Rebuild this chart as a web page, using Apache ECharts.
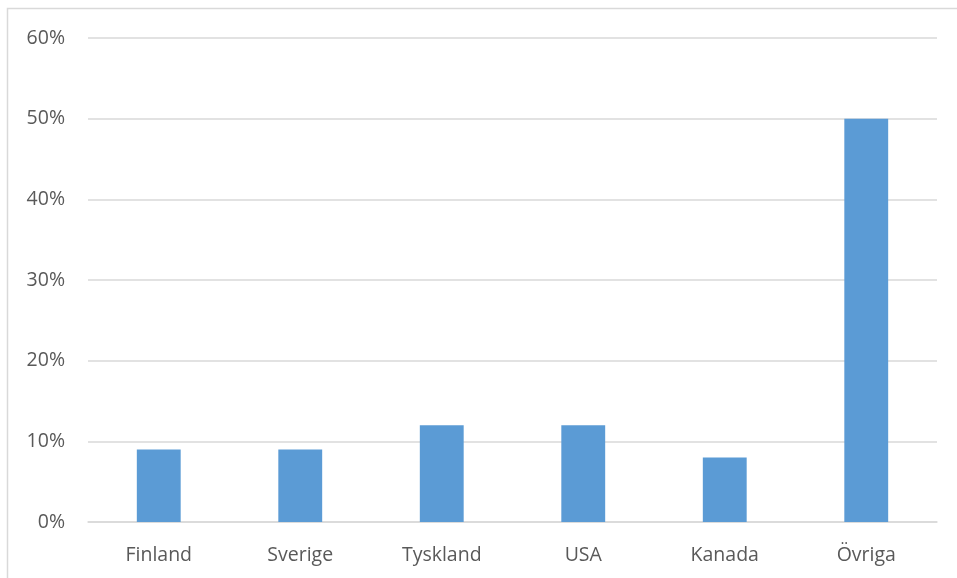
<!DOCTYPE html>
<html>
<head>
<meta charset="utf-8">
<script src="https://cdn.jsdelivr.net/npm/echarts@6/dist/echarts.min.js"></script>
<style>
  html, body { margin: 0; padding: 0; background: #fff; }
  #chart { width: 957px; height: 578px; }
</style>
</head>
<body>
<div id="chart"></div>
<script>
// Share per country (percent)
const countries = ['Finland', 'Sverige', 'Tyskland', 'USA', 'Kanada', 'Övriga'];
const shares = [9, 9, 12, 12, 8, 50];
const yTicks = { min: 0, max: 60, interval: 10 };

const chart = echarts.init(document.getElementById('chart'));
const fontFamily = '"Open Sans", "Noto Sans", sans-serif';

chart.setOption({
  animation: false,
  backgroundColor: '#ffffff',
  graphic: [{
    type: 'rect',
    shape: { x: 7.5, y: 8.5, width: 1000, height: 700 },
    style: { fill: 'none', stroke: '#d9d9d9', lineWidth: 1.5 },
    silent: true
  }],
  grid: { left: 88, right: 20, top: 38, bottom: 56, containLabel: false },
  xAxis: {
    type: 'category',
    data: countries,
    axisLine: { show: true, lineStyle: { color: '#d9d9d9', width: 1.5 } },
    axisTick: { show: false },
    axisLabel: { color: '#595959', fontSize: 19.5, fontFamily, margin: 23 }
  },
  yAxis: {
    type: 'value',
    min: yTicks.min, max: yTicks.max, interval: yTicks.interval,
    axisLine: { show: false },
    axisTick: { show: false },
    splitLine: { lineStyle: { color: '#d9d9d9', width: 1.5 } },
    axisLabel: { color: '#595959', fontSize: 19.5, fontFamily, margin: 23, padding: [3, 0, 0, 0], formatter: v => v + '%' }
  },
  series: [{
    type: 'bar',
    data: shares,
    barWidth: '31%',
    itemStyle: { color: '#5b9bd5' }
  }]
});
</script>
</body>
</html>
